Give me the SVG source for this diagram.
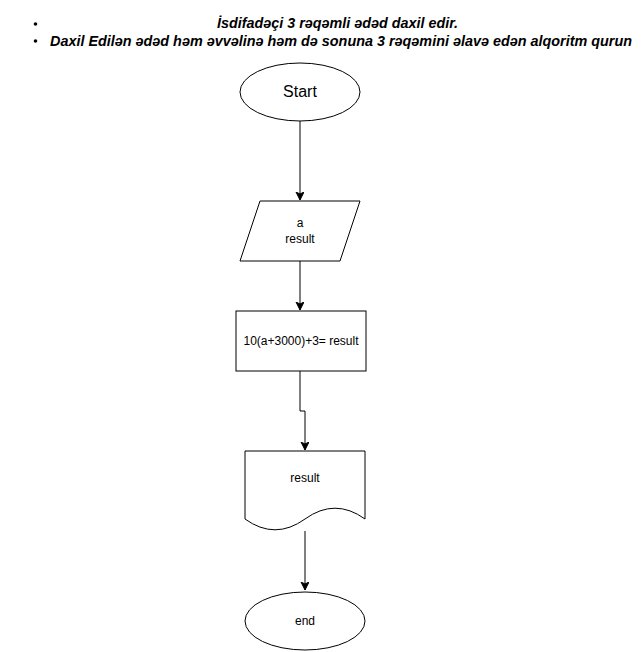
<svg xmlns="http://www.w3.org/2000/svg" width="641" height="652" viewBox="0 0 641 652">
  <style>
    .shape { fill: #ffffff; stroke: #000000; stroke-width: 1; }
    .edge { fill: none; stroke: #000000; stroke-width: 1; }
    .lbl { font-family: "Liberation Sans", Arial, sans-serif; font-size: 12px; fill: #000000; text-anchor: middle; }
    .big { font-size: 16px; }
    .title { font-family: "Liberation Sans", Arial, sans-serif; font-size: 14.3px; font-weight: bold; font-style: italic; fill: #000000; }
  </style>
  <defs>
    <marker id="arrow" markerWidth="10" markerHeight="10" refX="8" refY="4" orient="auto" markerUnits="userSpaceOnUse">
      <path d="M0,0 L8,4 L0,8 L2,4 Z" fill="#000000" stroke="#000000" stroke-width="1"/>
    </marker>
  </defs>
  <rect width="641" height="652" fill="#ffffff"/>

  <!-- task statement as a bulleted list -->
  <g id="heading">
    <circle cx="35.5" cy="24" r="1.8" fill="#000000"/>
    <circle cx="35.5" cy="41" r="1.8" fill="#000000"/>
    <text class="title" x="217" y="28" textLength="241" lengthAdjust="spacingAndGlyphs">İsdifadəçi 3 rəqəmli ədəd daxil edir.</text>
    <text class="title" x="50" y="45.5" textLength="582" lengthAdjust="spacingAndGlyphs">Daxil Edilən ədəd həm əvvəlinə həm də sonuna 3 rəqəmini əlavə edən alqoritm qurun</text>
  </g>

  <!-- connectors -->
  <g id="edges">
    <path class="edge" d="M300,121 V200" marker-end="url(#arrow)"/>
    <path class="edge" d="M300,261 V310" marker-end="url(#arrow)"/>
    <path class="edge" d="M300,371 V411 H305 V450" marker-end="url(#arrow)"/>
    <path class="edge" d="M305,531 V590" marker-end="url(#arrow)"/>
  </g>

  <g id="start">
    <ellipse class="shape" cx="300" cy="92" rx="60" ry="29"/>
    <text class="lbl big" x="300" y="97">Start</text>
  </g>

  <g id="input">
    <polygon class="shape" points="260,201 360,201 340,261 240,261"/>
    <text class="lbl" x="300" y="227">a</text>
    <text class="lbl" x="300" y="243">result</text>
  </g>

  <g id="compute">
    <rect class="shape" x="236" y="311" width="130" height="60"/>
    <text class="lbl" x="301" y="345">10(a+3000)+3= result</text>
  </g>

  <g id="output">
    <path class="shape" d="M245,451 H365 V519 Q335,497.4 305,519 Q275,540.6 245,519 Z"/>
    <text class="lbl" x="305" y="482">result</text>
  </g>

  <g id="end">
    <ellipse class="shape" cx="305" cy="621" rx="60" ry="29"/>
    <text class="lbl" x="305" y="625">end</text>
  </g>
</svg>
